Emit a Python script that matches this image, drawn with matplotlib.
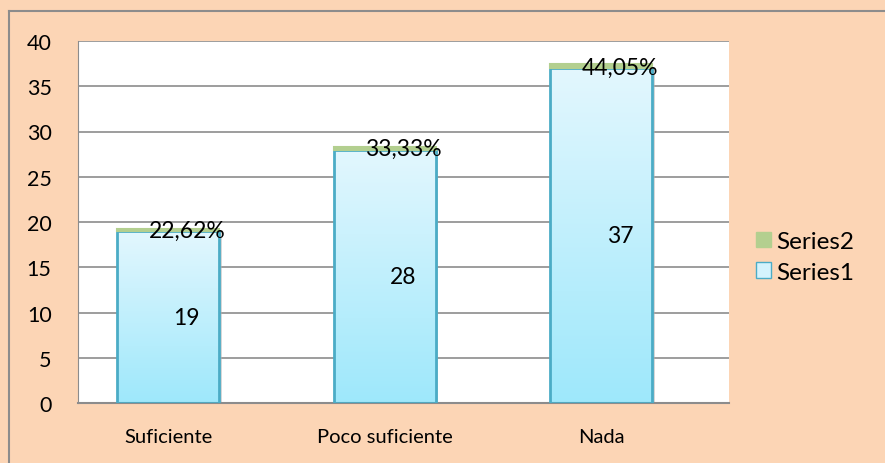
import matplotlib
matplotlib.use("Agg")
import matplotlib.pyplot as plt
import numpy as np
from matplotlib.patches import Rectangle, Patch
from matplotlib.lines import Line2D

categories = ["Suficiente", "Poco suficiente", "Nada"]
series1 = [19, 28, 37]
series2 = [0.2262, 0.3333, 0.4405]
series2_labels = ["22,62%", "33,33%", "44,05%"]
yticks = [0, 5, 10, 15, 20, 25, 30, 35, 40]

plt.rcParams['font.family'] = ['Lato', 'DejaVu Sans']

W, H = 885, 464
fig = plt.figure(figsize=(W / 100, H / 100), dpi=100)
bg = "#FCD5B5"
fig.patch.set_facecolor(bg)

# outer frame
fig.add_artist(Line2D([9 / W, 9 / W], [0, 1 - 12 / H], transform=fig.transFigure, color="#8C8C8C", lw=1.5))
fig.add_artist(Line2D([9 / W, 1], [1 - 12 / H, 1 - 12 / H], transform=fig.transFigure, color="#8C8C8C", lw=1.5))

left, right, top, bottom = 78, 729, 42, 404
ax = fig.add_axes([left / W, 1 - bottom / H, (right - left) / W, (bottom - top) / H])
ax.set_facecolor("white")

x = np.arange(len(categories))
ax.set_yticks(yticks)
ax.yaxis.grid(True, color="#8C8C8C", lw=1.2)
ax.set_axisbelow(True)
for s in ["top", "right"]:
    ax.spines[s].set_visible(False)
ax.spines["left"].set_color("#8C8C8C")
ax.spines["bottom"].set_color("#8C8C8C")
ax.spines["bottom"].set_linewidth(1.5)
ax.tick_params(axis="both", length=0, colors="black")
ax.tick_params(axis="y", pad=19, labelsize=15.5)
ax.tick_params(axis="x", pad=18, labelsize=14.5)
ax.set_xticks(x)
ax.set_xticklabels(categories)

width = 0.471
grad = np.linspace(0, 1, 256).reshape(-1, 1)
top_c = np.array([0xE3, 0xF7, 0xFE]) / 255
bot_c = np.array([0x9E, 0xE8, 0xFB]) / 255
img = top_c * (1 - grad[..., None]) + bot_c * grad[..., None]

bars = ax.bar(x, series1, width=width, color="none", edgecolor="#4BACC6", linewidth=2, zorder=3, label="Series1")
for b, v in zip(bars, series1):
    x0 = b.get_x()
    sh = Rectangle((x0 + 0.012, 0), width, v - 0.15, facecolor="#B0B0B0", edgecolor="none", alpha=0.5, zorder=1.5)
    ax.add_patch(sh)
    im = ax.imshow(img, extent=[x0, x0 + width, 0, v], aspect="auto", zorder=2, interpolation="bilinear")
    clip = Rectangle((x0, 0), width, v, transform=ax.transData)
    im.set_clip_path(clip)
ax.set_xlim(-0.4157, 2.591)
ax.set_ylim(0, 40)

ax.bar(x, series2, bottom=series1, width=width, color="#B3CF8F", edgecolor="#B3CF8F", linewidth=1.5, zorder=3, label="Series2")

lab_off = 0.087
for xi, v, lab in zip(x, series1, series2_labels):
    ax.text(xi + lab_off, v / 2, str(v), ha="center", va="center", fontsize=16.5, zorder=5)
    ax.text(xi + lab_off, v + 0.1, lab, ha="center", va="center", fontsize=16.5, zorder=5)

handles = [Patch(facecolor="#B3CF8F", edgecolor="#B3CF8F"),
           Patch(facecolor="#D4F3FD", edgecolor="#4BACC6")]
fig.legend(handles, ["Series2", "Series1"], loc="center left",
           bbox_to_anchor=(756 / W, 1 - 258 / H), frameon=False, fontsize=17.5,
           handlelength=0.62, handleheight=0.62, handletextpad=0.2, labelspacing=0.4,
           borderaxespad=0, borderpad=0)

fig.savefig("out.png", dpi=100, facecolor=bg)
